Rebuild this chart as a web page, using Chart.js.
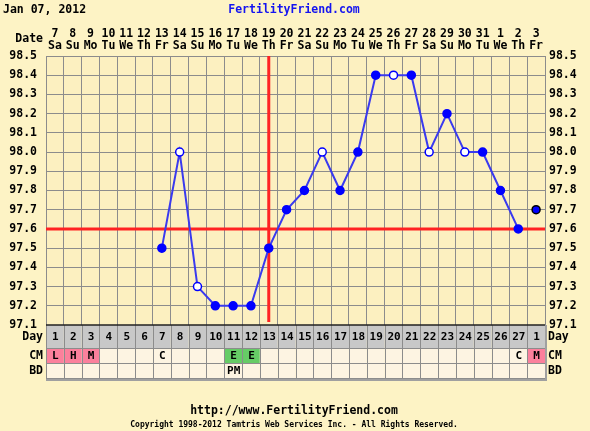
<!DOCTYPE html>
<html>
<head>
<meta charset="utf-8">
<title>Fertility chart</title>
<script src="https://cdn.jsdelivr.net/npm/chart.js@4/dist/chart.umd.min.js"></script>
<style>
  html, body { margin: 0; padding: 0; background: #fdf3c5; }
  canvas { display: block; }
</style>
</head>
<body>
<canvas id="bbt-chart" width="590" height="431"></canvas>
<script>
// chart data
const dates = ['7','8','9','10','11','12','13','14','15','16','17','18','19','20',
               '21','22','23','24','25','26','27','28','29','30','31','1','2','3']
const weekdays = ['Sa','Su','Mo','Tu','We','Th','Fr','Sa','Su','Mo','Tu','We','Th','Fr',
                  'Sa','Su','Mo','Tu','We','Th','Fr','Sa','Su','Mo','Tu','We','Th','Fr']
const cycleDays = ['1','2','3','4','5','6','7','8','9','10','11','12','13','14',
                   '15','16','17','18','19','20','21','22','23','24','25','26','27','1']
const temps = [null, null, null, null, null, null, 97.5, 98.0, 97.3, 97.2, 97.2, 97.2, 97.5, 97.7,
               97.8, 98.0, 97.8, 98.0, 98.4, 98.4, 98.4, 98.0, 98.2, 98.0, 98.0, 97.8, 97.6, null]
const nextCycleTemps = [null, null, null, null, null, null, null, null, null, null, null, null, null, null,
                        null, null, null, null, null, null, null, null, null, null, null, null, null, 97.7]
const discardedDays = [8, 9, 16, 20, 22, 24]   // cycle days shown as open circles
const cervicalMucus = ['L','H','M','','','','C','','','','E','E','','',
                       '','','','','','','','','','','','','C','M']
const intercourse = ['','','','','','','','','','','PM','','','',
                     '','','','','','','','','','','','','','']
const coverline = 97.6
const ovulationDay = 13
const tempMin = 97.1, tempMax = 98.5, tempStep = 0.1

const FONT = '"DejaVu Sans Mono", "Liberation Mono", monospace'
const cmColors = { L: '#fb809c', H: '#fb809c', M: '#fb809c', E: '#66cc66' }

const pointFill = temps.map((t, i) => discardedDays.includes(i + 1) ? '#ffffff' : '#0000ff')

const fixedSize = (w, h) => scale => {
  if (w) scale.width = w
  if (h) scale.height = h
}

const decor = {
  id: 'decor',
  beforeDraw(chart) {
    const { ctx, chartArea: a } = chart
    ctx.save()
    ctx.fillStyle = '#fdf3c5'
    ctx.fillRect(0, 0, chart.width, chart.height)
    ctx.fillStyle = '#fcf0c0'
    ctx.fillRect(a.left, a.top, a.right - a.left, a.bottom - a.top)
    ctx.restore()
  },
  beforeDatasetsDraw(chart) {
    const { ctx, chartArea: a, scales: { x, y } } = chart
    const cy = y.getPixelForValue(coverline)
    const ox = x.getPixelForValue(ovulationDay - 1)
    ctx.save()
    ctx.strokeStyle = '#ff2222'
    ctx.lineWidth = 3
    ctx.beginPath()
    ctx.moveTo(ox, a.top)
    ctx.lineTo(ox, a.bottom - 3)
    ctx.moveTo(a.left, cy)
    ctx.lineTo(a.right, cy)
    ctx.stroke()
    ctx.restore()
  },
  afterDraw(chart) {
    const { ctx, chartArea: a, scales: { x } } = chart
    const colW = (a.right - a.left) / dates.length
    const rows = [
      { label: 'Day', top: a.bottom, h: 23, values: cycleDays, fill: () => '#c8c8c8' },
      { label: 'CM', top: a.bottom + 23, h: 15, values: cervicalMucus, fill: v => cmColors[v] || '#fdf4e2' },
      { label: 'BD', top: a.bottom + 38, h: 15, values: intercourse, fill: () => '#fdf4e2' }
    ]
    const tableBottom = a.bottom + 53

    ctx.save()
    ctx.font = 'bold 11px ' + FONT
    ctx.textAlign = 'center'
    ctx.textBaseline = 'middle'
    rows.forEach(row => {
      row.values.forEach((v, i) => {
        const cx = x.getPixelForValue(i)
        ctx.fillStyle = row.fill(v)
        ctx.fillRect(cx - colW / 2, row.top, colW, row.h)
        if (v) {
          ctx.fillStyle = '#000'
          ctx.fillText(v, cx + 0.5, row.top + row.h / 2 + 1)
        }
      })
    })

    // cell lines
    ctx.strokeStyle = '#8c8c8c'
    ctx.lineWidth = 1
    ctx.beginPath()
    for (let i = 0; i <= dates.length; i++) {
      const lx = Math.round(a.left + i * colW) + 0.5
      ctx.moveTo(lx, a.bottom)
      ctx.lineTo(lx, tableBottom)
    }
    rows.forEach(row => {
      ctx.moveTo(a.left, row.top + row.h + 0.5)
      ctx.lineTo(a.right, row.top + row.h + 0.5)
    })
    ctx.stroke()

    // shadow on right and bottom
    ctx.strokeStyle = '#a0a0a0'
    ctx.lineWidth = 2
    ctx.beginPath()
    ctx.moveTo(a.right + 1, a.bottom)
    ctx.lineTo(a.right + 1, tableBottom + 2)
    ctx.lineTo(a.left, tableBottom + 2)
    ctx.stroke()

    // top edge of the table
    ctx.strokeStyle = '#222'
    ctx.lineWidth = 1.5
    ctx.beginPath()
    ctx.moveTo(a.left, a.bottom)
    ctx.lineTo(a.right, a.bottom)
    ctx.stroke()

    // row labels both sides
    ctx.fillStyle = '#000'
    ctx.font = 'bold 11.5px ' + FONT
    rows.forEach(row => {
      const ly = row.top + row.h / 2 + 1
      ctx.textAlign = 'right'
      ctx.fillText(row.label, a.left - 3, ly)
      ctx.textAlign = 'left'
      ctx.fillText(row.label, a.right + 3, ly)
    })
    ctx.textAlign = 'right'
    ctx.fillText('Date', a.left - 3, 39)

    // header
    ctx.font = 'bold 11.5px ' + FONT
    ctx.textAlign = 'left'
    ctx.fillText('Jan 07, 2012', 3, 10)
    ctx.fillStyle = '#1414f0'
    ctx.textAlign = 'center'
    ctx.fillText('FertilityFriend.com', 294, 10)

    // footer
    ctx.fillStyle = '#000'
    ctx.fillText('http://www.FertilityFriend.com', 294, 411)
    ctx.font = 'bold 8px ' + FONT
    ctx.fillText('Copyright 1998-2012 Tamtris Web Services Inc. - All Rights Reserved.', 294, 425)
    ctx.restore()
  }
}

window.addEventListener('DOMContentLoaded', () => {
  const canvas = document.getElementById('bbt-chart')
  const tickFont = { family: FONT, size: 11.5, weight: 'bold', lineHeight: 1.05 }

  new Chart(canvas.getContext('2d'), {
    type: 'line',
    data: {
      labels: dates.map((d, i) => [d, weekdays[i]]),
      datasets: [{
        data: temps,
        borderColor: '#3a3aef',
        borderWidth: 2,
        pointRadius: 4,
        pointBorderWidth: 1.5,
        pointBorderColor: '#0000ff',
        pointBackgroundColor: pointFill,
        spanGaps: false,
        tension: 0
      }, {
        data: nextCycleTemps,
        showLine: false,
        pointRadius: 4,
        pointBorderWidth: 1.5,
        pointBorderColor: '#000000',
        pointBackgroundColor: '#0000ff'
      }]
    },
    options: {
      responsive: false,
      devicePixelRatio: 1,
      animation: false,
      layout: { padding: { left: 0, right: 0, top: 0, bottom: 106 } },
      plugins: {
        legend: { display: false },
        tooltip: { enabled: false }
      },
      scales: {
        x: {
          type: 'category',
          position: 'top',
          offset: true,
          afterFit: fixedSize(null, 56),
          grid: { offset: true, color: '#8c8c8c', drawTicks: false },
          border: { color: '#8c8c8c' },
          ticks: { color: '#000', font: tickFont, padding: 4, maxRotation: 0, autoSkip: false }
        },
        y: {
          position: 'left',
          min: tempMin,
          max: tempMax,
          afterFit: fixedSize(46, null),
          grid: { color: '#8c8c8c', drawTicks: false },
          border: { color: '#8c8c8c' },
          ticks: { stepSize: tempStep, color: '#000', font: tickFont, padding: 9,
                   callback: v => v.toFixed(1) }
        },
        y2: {
          position: 'right',
          min: tempMin,
          max: tempMax,
          afterFit: fixedSize(45, null),
          grid: { display: false, drawTicks: false },
          border: { color: '#8c8c8c' },
          ticks: { stepSize: tempStep, color: '#000', font: tickFont, padding: 4,
                   callback: v => v.toFixed(1) }
        }
      }
    },
    plugins: [decor]
  })
})
</script>
</body>
</html>
